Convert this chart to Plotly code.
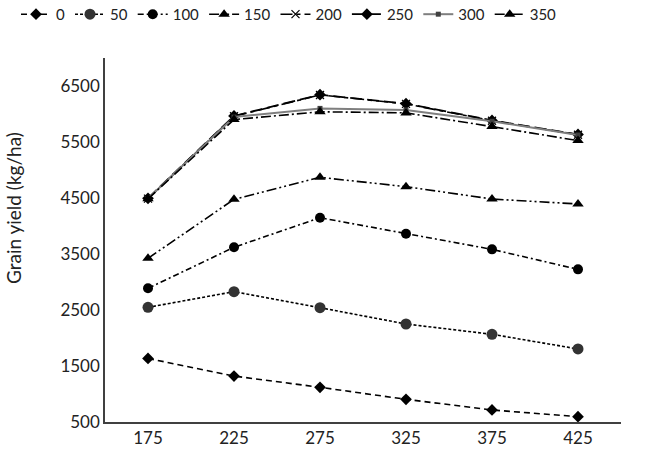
import plotly.graph_objects as go

categories = ["175", "225", "275", "325", "375", "425"]
series_names = ["0", "50", "100", "150", "200", "250", "300", "350"]
y0 = [1635, 1320, 1120, 905, 715, 595]
y50 = [2548, 2827, 2541, 2250, 2066, 1804]
y100 = [2887, 3620, 4148, 3863, 3583, 3226]
y150 = [3423, 4476, 4869, 4702, 4482, 4393]
y200 = [4490, 5960, 6340, 6180, 5880, 5630]
y250 = [4495, 5965, 6345, 6185, 5885, 5635]
y300 = [4490, 5945, 6100, 6070, 5870, 5625]
y350 = [4485, 5900, 6040, 6020, 5775, 5525]
values = [y0, y50, y100, y150, y200, y250, y300, y350]

styles = [
    dict(dash="6px,4px", color="black", width=1.6, symbol="diamond", msize=9, mcolor="black"),
    dict(dash="3px,2px", color="black", width=1.6, symbol="circle", msize=11, mcolor="#333333"),
    dict(dash="6px,3px,2px,3px", color="black", width=1.6, symbol="circle", msize=10, mcolor="black"),
    dict(dash="10px,3px,2px,3px,2px,3px", color="black", width=1.6, symbol="triangle-up", msize=10, mcolor="black"),
    dict(dash="12px,4px,4px,4px", color="black", width=1.6, symbol="x-thin", msize=8, mcolor="black"),
    dict(dash="12px,5px", color="black", width=1.8, symbol="diamond", msize=9, mcolor="black"),
    dict(dash="solid", color="#7f7f7f", width=2, symbol="square", msize=5, mcolor="#404040"),
    dict(dash="10px,3px,2px,3px", color="black", width=1.6, symbol="triangle-up", msize=10, mcolor="black"),
]

fig = go.Figure()
for name, vals, s in zip(series_names, values, styles):
    fig.add_trace(go.Scatter(
        x=categories, y=vals, name=name, mode="lines+markers",
        line=dict(color=s["color"], width=s["width"], dash=s["dash"]),
        marker=dict(symbol=s["symbol"], size=s["msize"], color=s["mcolor"],
                    line=dict(color="black", width=1.2 if s["symbol"] == "x-thin" else 0)),
    ))

font = "Lato, Open Sans, sans-serif"
fig.update_layout(
    width=645, height=456,
    margin=dict(l=105, r=24, t=58, b=34, autoexpand=False),
    paper_bgcolor="white", plot_bgcolor="white",
    font=dict(family=font, size=17, color="#222222"),
    showlegend=True,
    legend=dict(orientation="h", x=(16 - 105) / 516, y=1.165, xanchor="left", yanchor="top",
                font=dict(size=15), itemwidth=30, tracegroupgap=0),
    xaxis=dict(type="category", range=[-0.5, 5.5], showgrid=False, showline=True,
               linecolor="#404040", linewidth=1.5, ticks="", tickfont=dict(size=17)),
    yaxis=dict(range=[500, 7000], tickvals=[500, 1500, 2500, 3500, 4500, 5500, 6500],
               showgrid=False, showline=True, linecolor="#404040", linewidth=1.5,
               ticks="", zeroline=False, tickfont=dict(size=17)),
    annotations=[dict(text="Grain yield (kg/ha)", textangle=-90, xref="paper", yref="paper",
                      x=(13 - 105) / 516, y=(422 - 208) / 364, xanchor="center", yanchor="middle",
                      showarrow=False, font=dict(size=19, family=font, color="#222222"))],
)

fig.write_html("out.html")
